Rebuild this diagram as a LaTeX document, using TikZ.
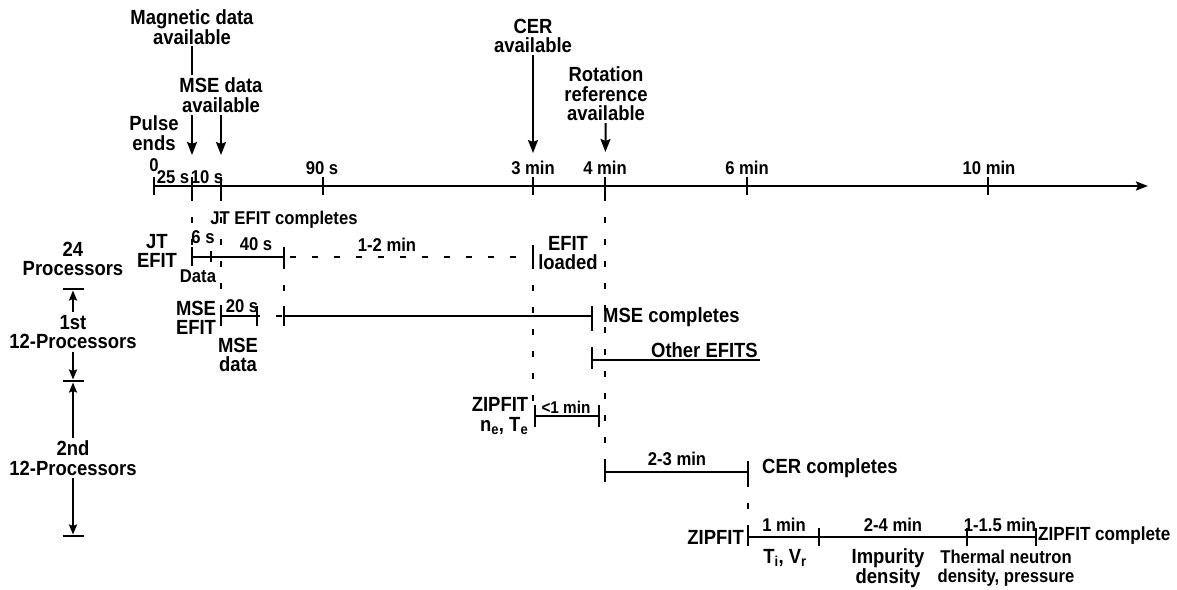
\documentclass[tikz,border=0pt]{standalone}
\usepackage{fontspec}
\setmainfont{Liberation Sans}[FakeStretch=0.9]
\usetikzlibrary{arrows.meta}

\newcommand{\bigtxt}{\fontsize{20.5}{19.5}\selectfont\bfseries}
\newcommand{\smalltxt}{\fontsize{18.5}{18.5}\selectfont\bfseries}

\begin{document}
\begin{tikzpicture}[x=1pt, y=-1pt, line cap=butt,
	lbl/.style={font=\bigtxt, align=center, inner sep=0pt},
	dur/.style={font=\smalltxt, align=center, inner sep=0pt},
	barln/.style={line width=2pt},
	tickln/.style={line width=2.6pt},
	dashln/.style={line width=2pt, dash pattern=on 6pt off 16pt},
	arr/.style={line width=2pt, -{Stealth[length=13pt, width=10pt, inset=2pt]}, shorten <=2pt},
	brarr/.style={line width=2pt, -{Stealth[length=10pt, width=8pt, inset=1.5pt]}, shorten <=3pt, shorten >=1.5pt}]

\useasboundingbox (0,0) rectangle (1177,589);

% ===== time axis =====
\coordinate (t0) at (154,186);
\coordinate (t25) at (192,186);
\coordinate (t10) at (221,186);
\coordinate (t90) at (323,186);
\coordinate (t3) at (533,186);
\coordinate (t4) at (605,186);
\coordinate (t6) at (747,186);
\coordinate (t10m) at (988,186);
\coordinate (tend) at (1148,186);
\draw[line width=2.2pt, -{Stealth[length=12pt, width=9pt, inset=2pt]}] (t0) -- (tend);
\foreach \t in {t0,t25,t10,t90,t3,t4,t6,t10m}
	\draw[tickln] (\t) ++(0,-9) -- ++(0,18);

\node[dur] (l0) at (154,165) {0};
\node[dur] (l25) at (173,177) {25 s};
\node[dur] (l10) at (207,177) {10 s};
\node[dur] (l90) at (322,168) {90 s};
\node[dur] (l3) at (533,168) {3 min};
\node[dur] (l4) at (605,168) {4 min};
\node[dur] (l6) at (747,168) {6 min};
\node[dur] (l10m) at (989,168) {10 min};

% ===== events above the axis =====
\node[lbl] (magn) at (192,27) {Magnetic data\\available};
\draw[arr, shorten >=31pt] (magn) -- (t25);
\node[lbl, fill=white, inner sep=3pt] (msedat) at (221,95) {MSE data\\available};
\draw[arr, shorten <=0pt, shorten >=31pt] (msedat) -- (t10);
\node[lbl] (pulse) at (154,133) {Pulse\\ends};
\node[lbl] (cer) at (533,36) {CER\\available};
\draw[arr, shorten >=33pt] (cer) -- (t3);
\node[lbl] (rot) at (606,94) {Rotation\\reference\\available};
\draw[arr, shorten >=34pt] (rot) -- (t4);

% ===== JT EFIT =====
\coordinate (jt0) at (192,257);
\coordinate (jt6) at (211,257);
\coordinate (jtend) at (284,257);
\coordinate (efld) at (533,257);
\draw[dashln, shorten <=9pt] (t25) -- (jt0);
\draw[barln] (jt0) -- (jtend);
\draw[dashln, shorten <=6pt] (jtend) -- (efld);
\draw[tickln] (jt0) ++(0,-10) -- ++(0,19);
\draw[tickln] (jt6) ++(0,-6) -- ++(0,11);
\draw[tickln] (jtend) ++(0,-10) -- ++(0,19);
\draw[tickln] (efld) ++(0,-12) -- ++(0,18);
\node[lbl] (jtlbl) at (157,251) {JT\\EFIT};
\node[dur] (jtdone) at (284,220) {JT EFIT completes};
\node[dur] (d6) at (203,237) {6 s};
\node[dur] (d40) at (256,244) {40 s};
\node[dur] (d12) at (387,245) {1-2 min};
\node[dur] (jtdata) at (198,276) {Data};
\node[lbl] (efldlbl) at (568,253) {EFIT\\loaded};

% ===== MSE EFIT =====
\coordinate (mse0) at (221,316);
\coordinate (mse20) at (257,316);
\coordinate (mse1) at (284,316);
\coordinate (mseend) at (592,316);
\draw[dashln, shorten <=9pt] (t10) -- (mse0);
\draw[barln] (mse0) -- (mse20);
\draw[dashln, dash phase=3pt] (mse20) -- (mse1);
\draw[dashln, shorten <=6pt] (jtend) -- (mse1);
\draw[barln] (mse1) -- (mseend);
\foreach \t in {mse0,mse20,mse1,mseend}
	\draw[tickln] (\t) ++(0,-10) -- ++(0,20);
\node[dur] (d20) at (242,306) {20 s};
\node[lbl] (mselbl) at (196,318) {MSE\\EFIT};
\node[lbl] (msedata) at (238,355) {MSE\\data};
\node[lbl, anchor=west] (msedone) at (603,317) {MSE completes};

% ===== other EFITs =====
\coordinate (oth0) at (592,360);
\coordinate (othend) at (760,360);
\draw[dashln, shorten <=9pt] (mseend) -- (oth0);
\draw[barln] (oth0) -- (othend);
\draw[tickln] (oth0) ++(0,-10) -- ++(0,19);
\node[lbl, anchor=base east] (other) at (758,357) {Other EFITS};

% ===== ZIPFIT ne, Te =====
\coordinate (zn0) at (535,416);
\coordinate (zn1) at (599,416);
\draw[dashln, shorten <=6pt, shorten >=10pt] (efld) -- (efld |- zn0);
\draw[barln] (zn0) -- (zn1);
\foreach \t in {zn0,zn1}
	\draw[tickln] (\t) ++(0,-11) -- ++(0,22);
\node[dur, font=\fontsize{17}{17}\selectfont\bfseries] (d1) at (566,407) {<1 min};
\node[lbl, align=right] (zipne) at (500,416) {ZIPFIT\\n\textsubscript{e}, T\textsubscript{e}};

% ===== CER =====
\coordinate (cer0) at (605,472);
\coordinate (cer1) at (748,472);
\draw[dashln, shorten <=9pt] (t4) -- (cer0);
\draw[barln] (cer0) -- (cer1);
\foreach \t in {cer0,cer1}
	\draw[tickln] (\t) ++(0,-11) -- ++(0,21);
\node[dur] (d23) at (677,459) {2-3 min};
\node[lbl, anchor=west] (cerdone) at (762,468) {CER completes};

% ===== ZIPFIT Ti, Vr =====
\coordinate (zf0) at (748,537);
\coordinate (zf1) at (819,537);
\coordinate (zf2) at (967,537);
\coordinate (zf3) at (1036,537);
\draw[dashln, shorten <=9pt] (cer1) -- (zf0);
\draw[barln] (zf0) -- (zf3);
\foreach \t in {zf0,zf1,zf2,zf3}
	\draw[tickln] (\t) ++(0,-9) -- ++(0,18);
\node[lbl, anchor=east] (zip) at (744,537) {ZIPFIT};
\node[lbl, anchor=west, font=\fontsize{19}{19}\selectfont\bfseries] (zipdone) at (1038,536) {ZIPFIT complete};
\node[dur] (dm1) at (784,525) {1 min};
\node[dur] (dm24) at (893,525) {2-4 min};
\node[dur] (dm15) at (1000,525) {1-1.5 min};
\node[lbl] (tivr) at (785,558) {T\textsubscript{i}, V\textsubscript{r}};
\node[lbl] (imp) at (888,568) {Impurity\\density};
\node[dur] (therm) at (1006,568) {Thermal neutron\\density, pressure};

% ===== processors =====
\coordinate (b1) at (73,289);
\coordinate (b2) at (73,381);
\coordinate (b3) at (73,536);
\foreach \b in {b1,b2,b3}
	\draw[tickln] (\b) ++(-10.5,0) -- ++(21,0);
\node[lbl] (procs) at (73,259) {24\\Processors};
\node[lbl] (first) at (73,332) {1st\\12-Processors};
\node[lbl] (second) at (73,458) {2nd\\12-Processors};
\draw[brarr] (first) -- (b1);
\draw[brarr] (first) -- (b2);
\draw[brarr] (second) -- (b2);
\draw[brarr] (second) -- (b3);

\end{tikzpicture}
\end{document}
